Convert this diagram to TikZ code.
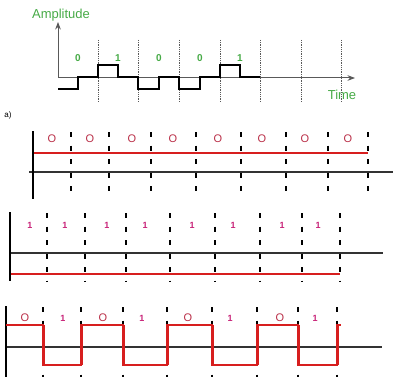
\documentclass[tikz,border=0pt]{standalone}
\usepackage{fontspec}
\setmainfont{Liberation Sans}
\usetikzlibrary{arrows.meta}
\definecolor{ampgreen}{RGB}{70,170,70}
\definecolor{sigred}{RGB}{215,30,30}
\definecolor{zerored}{RGB}{185,45,70}
\definecolor{onepink}{RGB}{200,35,120}
\begin{document}
\begin{tikzpicture}[x=1pt, y=-1pt, >=Stealth,
    axis/.style={gray!70!black, line width=1pt},
    tick/.style={densely dotted, gray!70!black, line width=0.8pt},
    pulse/.style={black, line width=2pt},
    slot/.style={black, line width=2pt, dash pattern=on 5pt off 8.5pt},
    wall/.style={black, line width=2.6pt},
    base/.style={gray!40!black, line width=1.3pt},
    lvl/.style={sigred, line width=1.7pt},
    gtxt/.style={text=ampgreen, inner sep=1pt},
    zbit/.style={text=zerored, inner sep=1pt, font=\fontsize{11}{12}\selectfont},
    obit/.style={text=onepink, inner sep=1pt, font=\fontsize{9}{10}\selectfont\bfseries}]
  \useasboundingbox (0,0) rectangle (393,377);
  % panel a: signal with amplitude and time axes
  \draw[axis,->] (58,78) -- (58,22);
  \draw[axis,->] (58,78) -- (355,78);
  \node[gtxt, font=\fontsize{13}{14}\selectfont] (amp) at (61,15) {Amplitude};
  \node[gtxt, font=\fontsize{13}{14}\selectfont] (time) at (342,95) {Time};
  \foreach \x in {98,138,179,220,260,301,341}
    \draw[tick] (\x,40) -- (\x,102);
  \draw[pulse] (58,89) -| (78,77) -| (98,65) -| (118,77) -| (138,89) -| (159,77)
    -| (179,89) -| (200,77) -| (220,65) -| (240,77) -- (260,77);
  \foreach \x/\b [count=\i] in {78/0,118/1,159/0,200/0,240/1}
    \node[gtxt, font=\fontsize{10}{11}\selectfont\bfseries] (top\i) at (\x,58) {\b};
  \node[font=\fontsize{8}{9}\selectfont, inner sep=0pt] (tag) at (8,115) {a)};
  % all zeros
  \draw[base] (29,172) -- (393,172);
  \draw[lvl] (33,153) -- (368,153);
  \foreach \x in {71,109,151,196,241,286,328,368}
    \draw[slot] (\x,132) -- (\x,199);
  \draw[wall] (33,131) -- (33,199);
  \foreach \x [count=\i] in {52,90,132,173,218,262,305,348}
    \node[zbit] (za\i) at (\x,139) {O};
  % all ones
  \draw[base] (10,253) -- (383,253);
  \draw[lvl] (10,274) -- (340,274);
  \foreach \x in {47,85,126,170,215,260,302,340}
    \draw[slot] (\x,213) -- (\x,281);
  \draw[wall] (10,212) -- (10,281);
  \foreach \x [count=\i] in {30,65,107,145,192,233,282,318}
    \node[obit] (oa\i) at (\x,225) {1};
  % alternating
  \draw[base] (6,347) -- (382,347);
  \foreach \x in {43,81,123,167,212,257,298,337}
    \draw[slot] (\x,307) -- (\x,377);
  \draw[wall] (6,306) -- (6,377);
  \draw[sigred, line width=1.6pt] (6,325) -| (43,365) -| (81,325) -| (123,365)
    -| (167,325) -| (212,365) -| (257,325) -| (298,365) -| (337,325) -- (341,325);
  \foreach \x in {43,81,123,167,212,257,298,337}
    \draw[sigred, line width=3pt] (\x,325) -- (\x,365);
  \foreach \x/\b/\s [count=\i] in {25/O/zbit,63/1/obit,103/O/zbit,142/1/obit,
      188/O/zbit,230/1/obit,280/O/zbit,315/1/obit}
    \node[\s] (alt\i) at (\x,318) {\b};
\end{tikzpicture}
\end{document}
